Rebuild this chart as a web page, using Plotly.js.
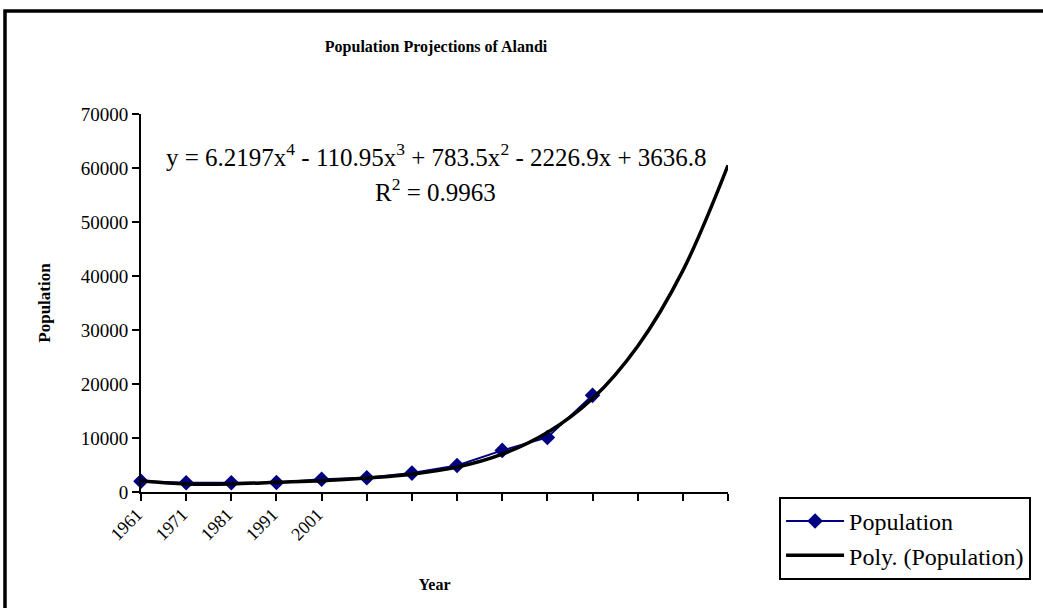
<!DOCTYPE html>
<html>
<head>
<meta charset="utf-8">
<script src="https://cdn.plot.ly/plotly-3.0.1.min.js"></script>
<style>
  html, body { margin: 0; padding: 0; background: #ffffff; }
  #chart { width: 1043px; height: 608px; }
</style>
</head>
<body>
<div id="chart"></div>
<script>
// Labelled categories (years) and all category positions (1..14)
var yearCategories = [1, 2, 3, 4, 5];
var yearLabels = ['1961', '1971', '1981', '1991', '2001'];
var categories = [1, 2, 3, 4, 5, 6, 7, 8, 9, 10, 11, 12, 13, 14];

// Observed population series (11 points)
var popCategories = [1, 2, 3, 4, 5, 6, 7, 8, 9, 10, 11];
var population = [2000, 1700, 1700, 1750, 2350, 2650, 3500, 4900, 7700, 10100, 17900];

// Polynomial trendline at each category
var trendCategories = [1, 2, 3, 4, 5, 6, 7, 8, 9, 10, 11, 12, 13, 14];
var trendValues = [2100, 1500, 1500, 1800, 2100, 2600, 3300, 4600, 7000, 11000, 17300, 27000, 41000, 60500];

var yTicks = [0, 10000, 20000, 30000, 40000, 50000, 60000, 70000];

var serif = 'Liberation Serif, Times New Roman, serif';

var traces = [
  {
    x: popCategories,
    y: population,
    type: 'scatter',
    mode: 'lines+markers',
    name: 'Population',
    line: { color: '#000080', width: 2 },
    marker: { symbol: 'diamond', size: 12, color: '#000080' },
    cliponaxis: false
  },
  {
    x: trendCategories,
    y: trendValues,
    type: 'scatter',
    mode: 'lines',
    name: 'Poly. (Population)',
    line: { color: '#000000', width: 3.5, shape: 'spline', smoothing: 1 },
    cliponaxis: false
  }
];

var layout = {
  width: 1043,
  height: 608,
  paper_bgcolor: '#ffffff',
  plot_bgcolor: '#ffffff',
  margin: { l: 141, r: 315, t: 114, b: 116 },
  font: { family: serif, color: '#000000' },
  title: {
    text: '<b>Population Projections of Alandi</b>',
    font: { family: serif, size: 16, color: '#000000' },
    x: 0.5026, xanchor: 'center', xref: 'paper',
    y: 0.923, yanchor: 'middle', yref: 'container'
  },
  xaxis: {
    range: [1, 14],
    tickmode: 'array',
    tickvals: yearCategories,
    ticktext: yearLabels,
    tickangle: -45,
    ticks: 'outside',
    ticklen: 7,
    tickwidth: 2,
    tickcolor: '#000000',
    minor: {
      tickmode: 'array',
      tickvals: categories,
      ticks: 'outside',
      ticklen: 7,
      tickwidth: 2,
      tickcolor: '#000000',
      showgrid: false
    },
    showline: true,
    linecolor: '#000000',
    linewidth: 2,
    showgrid: false,
    zeroline: false,
    ticklabelstandoff: -4,
    ticklabelshift: -4,
    tickfont: { family: serif, size: 18, color: '#000000' },
    title: { text: '<b>Year</b>', font: { family: serif, size: 16, color: '#000000' }, standoff: 36 },
    automargin: false
  },
  yaxis: {
    range: [0, 70000],
    tickmode: 'array',
    tickvals: yTicks,
    ticktext: yTicks.map(String),
    ticks: 'outside',
    ticklen: 7,
    tickwidth: 2,
    tickcolor: '#000000',
    showline: true,
    linecolor: '#000000',
    linewidth: 2,
    showgrid: false,
    zeroline: false,
    tickfont: { family: serif, size: 19, color: '#000000' },
    title: { text: '<b>Population</b>', font: { family: serif, size: 17, color: '#000000' }, standoff: 26 },
    automargin: false
  },
  showlegend: true,
  legend: {
    x: 1.087, xanchor: 'left',
    y: -0.013, yanchor: 'top',
    bordercolor: '#000000',
    borderwidth: 2,
    bgcolor: '#ffffff',
    itemwidth: 58,
    font: { family: serif, size: 24, color: '#000000' },
    tracegroupgap: 0
  },
  annotations: [
    {
      text: 'y = 6.2197x<sup>4</sup> - 110.95x<sup>3</sup> + 783.5x<sup>2</sup> - 2226.9x + 3636.8',
      xref: 'paper', yref: 'paper',
      x: 0.504, y: (492 - 155) / 378,
      xanchor: 'center', yanchor: 'middle',
      showarrow: false,
      font: { family: serif, size: 25, color: '#000000' }
    },
    {
      text: 'R<sup>2</sup> = 0.9963',
      xref: 'paper', yref: 'paper',
      x: 0.502, y: (492 - 190) / 378,
      xanchor: 'center', yanchor: 'middle',
      showarrow: false,
      font: { family: serif, size: 25, color: '#000000' }
    }
  ],
  shapes: [
    {
      type: 'rect', xref: 'paper', yref: 'paper',
      x0: -0.2317, x1: 1.7, y0: -0.6, y1: 1.2725,
      line: { color: '#000000', width: 3.5 },
      fillcolor: 'rgba(0,0,0,0)',
      layer: 'below'
    }
  ]
};

Plotly.newPlot('chart', traces, layout, { displayModeBar: false, staticPlot: true });
</script>
</body>
</html>
